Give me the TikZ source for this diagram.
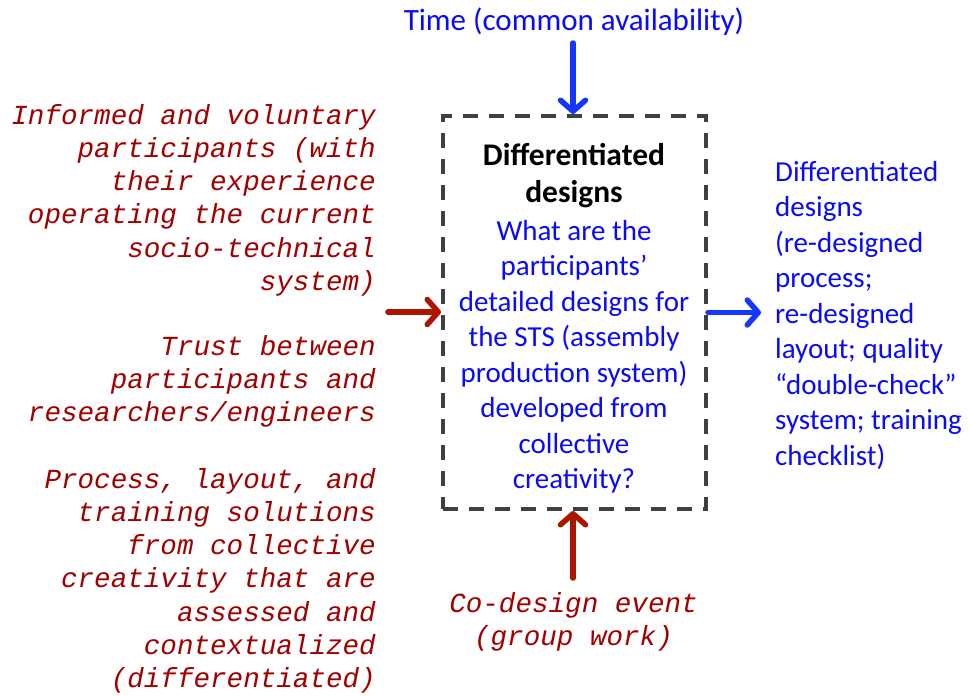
\documentclass[tikz,border=0pt]{standalone}
\usepackage{fontspec}
\setmainfont{Carlito}
\newfontfamily\courfont{Liberation Mono}
\usetikzlibrary{arrows.meta}
\definecolor{txtblue}{RGB}{10,10,250}
\definecolor{arrblue}{RGB}{20,55,255}
\definecolor{txtred}{RGB}{160,0,0}
\definecolor{arrred}{RGB}{170,22,0}
\definecolor{boxgray}{RGB}{64,64,64}
\begin{document}
\begin{tikzpicture}[x=1pt,y=-1pt,
  mono/.style={font=\courfont\itshape\fontsize{27.6}{33.3}\selectfont, text=txtred, inner sep=0pt},
  sans/.style={font=\fontsize{29}{35.5}\selectfont, text=txtblue, inner sep=0pt},
  titletext/.style={font=\bfseries\fontsize{31.5}{37}\selectfont, text=black, inner sep=0pt},
  dashbox/.style={draw=boxgray, line width=4pt, dash pattern=on 15pt off 11pt, inner sep=0pt},
  arrbase/.style={line width=5.5pt, line cap=round, -{Straight Barb[length=11pt,width=25pt,round]}},
  arrB/.style={arrbase, draw=arrblue},
  arrR/.style={arrbase, draw=arrred}]
\useasboundingbox (0,0) rectangle (972,696);

% central box
\node[dashbox, minimum width=263pt, minimum height=393pt] (box) at (574.5,312.5) {};
\node[titletext, anchor=base] (title) at (574,165)
  {\begin{tabular}[t]{@{}c@{}}Differentiated\\designs\end{tabular}};
\node[sans, anchor=base] (question) at (574,240)
  {\begin{tabular}[t]{@{}c@{}}What are the\\participants’\\detailed designs for\\the STS (assembly\\production system)\\developed from\\collective\\creativity?\end{tabular}};

% top
\node[sans, anchor=base, font=\fontsize{31}{37}\selectfont] (time) at (574,30) {Time (common availability)};
% right
\node[sans, anchor=base west] (output) at (775,181)
  {\begin{tabular}[t]{@{}l@{}}Differentiated\\designs\\(re-designed\\process;\\re-designed\\layout; quality\\“double-check”\\system; training\\checklist)\end{tabular}};
% left
\node[mono, anchor=base east] (in1) at (376,124)
  {\begin{tabular}[t]{@{}r@{}}Informed and voluntary\\participants (with\\their experience\\operating the current\\socio-technical\\system)\end{tabular}};
\node[mono, anchor=base east] (in2) at (376,355)
  {\begin{tabular}[t]{@{}r@{}}Trust between\\participants and\\researchers/engineers\end{tabular}};
\node[mono, anchor=base east] (in3) at (376,488)
  {\begin{tabular}[t]{@{}r@{}}Process, layout, and\\training solutions\\from collective\\creativity that are\\assessed and\\contextualized\\(differentiated)\end{tabular}};
% bottom
\node[mono, anchor=base] (mech) at (573.5,612.5)
  {\begin{tabular}[t]{@{}c@{}}Co-design event\\(group work)\end{tabular}};

% arrows
\coordinate (tA) at (573,43);
\draw[arrB] (tA) -- (tA |- box.north);
\coordinate (lA) at (388,312);
\draw[arrR] (lA) -- (lA -| box.west);
\coordinate (rA) at (761,312.5);
\draw[arrB] (box.east) -- (rA);
\coordinate (bA) at (573,578);
\draw[arrR] (bA) -- (bA |- box.south);
\end{tikzpicture}
\end{document}
